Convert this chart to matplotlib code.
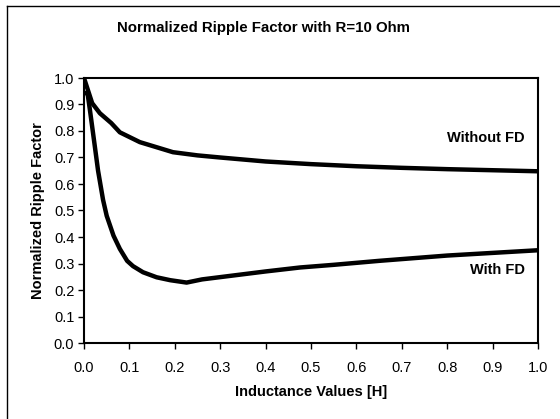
import matplotlib
matplotlib.use("Agg")
import matplotlib.pyplot as plt
from matplotlib.lines import Line2D

plt.rcParams['font.family'] = ['Liberation Sans', 'DejaVu Sans']

inductance = [0.0, 0.018, 0.035, 0.06, 0.079, 0.123, 0.196, 0.25, 0.3, 0.4, 0.5, 0.6, 0.7, 0.8, 0.9, 1.0]
without_fd = [1.0, 0.905, 0.867, 0.83, 0.795, 0.758, 0.72, 0.708, 0.70, 0.685, 0.675, 0.667, 0.661, 0.656, 0.652, 0.648]

inductance_fd = [0.0, 0.008, 0.013, 0.024, 0.031, 0.042, 0.05, 0.065, 0.079, 0.095, 0.108, 0.13, 0.16, 0.19, 0.226, 0.26, 0.33, 0.4, 0.476, 0.55, 0.65, 0.71, 0.8, 0.9, 1.0]
with_fd = [0.945, 0.94, 0.88, 0.74, 0.65, 0.54, 0.48, 0.405, 0.355, 0.31, 0.29, 0.267, 0.248, 0.237, 0.228, 0.24, 0.255, 0.27, 0.285, 0.295, 0.31, 0.318, 0.33, 0.34, 0.35]

fig = plt.figure(figsize=(5.6, 4.19), dpi=100)
ax = fig.add_axes([84/560, 1-343/419, (538-84)/560, (343-78)/419])

ax.plot(inductance, without_fd, color='black', lw=3.2, solid_capstyle='round', solid_joinstyle='round')
ax.plot(inductance_fd, with_fd, color='black', lw=3.2, solid_capstyle='round', solid_joinstyle='round')

ax.set_xlim(0, 1.0)
ax.set_ylim(0, 1.0)
ticks = [i / 10 for i in range(11)]
ax.set_xticks(ticks)
ax.set_yticks(ticks)
ax.set_xticklabels([f"{t:.1f}" for t in ticks], fontsize=10.5)
ax.set_yticklabels([f"{t:.1f}" for t in ticks], fontsize=10.5)
ax.tick_params(direction='out', length=4, width=1, colors='black', pad=3)
ax.tick_params(axis='x', pad=9)
for s in ax.spines.values():
    s.set_linewidth(1.5)
    s.set_color('black')

ax.set_xlabel("Inductance Values [H]", fontsize=10.5, fontweight='bold', labelpad=7)
ax.set_ylabel("Normalized Ripple Factor", fontsize=10.5, fontweight='bold', labelpad=6)

ax.text(0.971, 0.773, "Without FD", fontsize=10.5, fontweight='bold', ha='right', va='center')
ax.text(0.971, 0.276, "With FD", fontsize=10.5, fontweight='bold', ha='right', va='center')

fig.text(263/560, 1-28/419, "Normalized Ripple Factor with R=10 Ohm", fontsize=10.8, fontweight='bold', ha='center', va='center')

fig.add_artist(Line2D([7/560, 7/560], [0, 1-6/419], transform=fig.transFigure, color='black', lw=1))
fig.add_artist(Line2D([7/560, 1], [1-6/419, 1-6/419], transform=fig.transFigure, color='black', lw=1))

fig.savefig("out.png", dpi=100)
